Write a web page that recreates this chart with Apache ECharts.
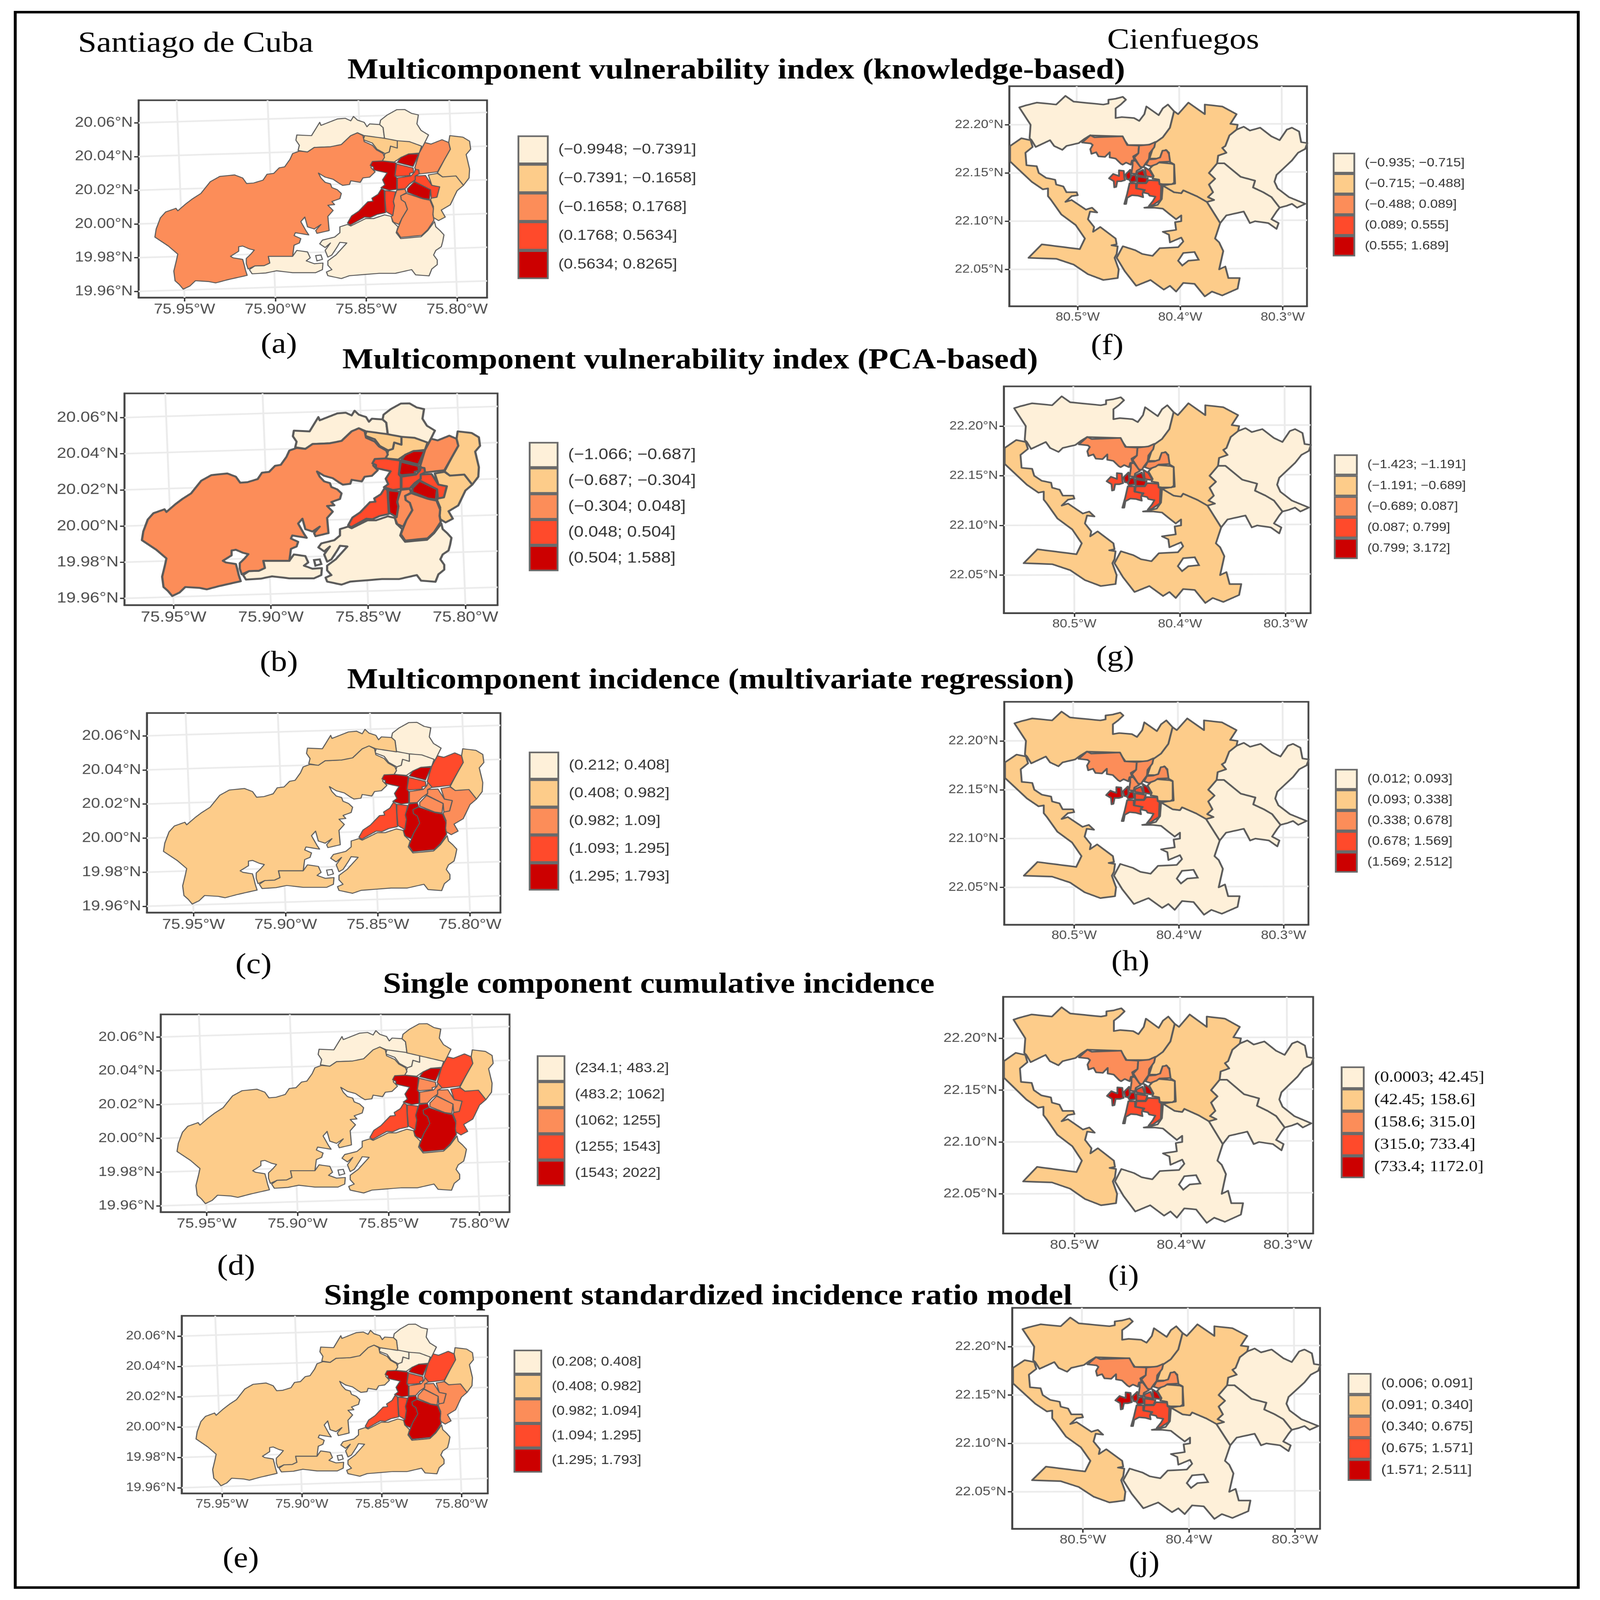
<!DOCTYPE html>
<html><head><meta charset="utf-8">
<style>html,body{margin:0;padding:0;background:#fff;overflow:hidden;width:100%;height:100%}#c{width:4412px;height:5011px;transform-origin:0 0}</style>
<script src="https://cdn.jsdelivr.net/npm/echarts@6/dist/echarts.min.js"></script>
</head><body><div id="c"></div>
<script>
// Class colours shared by all the maps
const classColors=['#FEF0D9','#FDCC8A','#FC8D59','#FF4A2B','#CC0000'];
const outlineColor='#5a5a5a';

// ---- Santiago de Cuba districts: [degrees west, degrees north]
const sWest=[[75.8548,20.0541],[75.8518,20.0524],[75.8511,20.0489],[75.8466,20.0467],[75.8444,20.0440],[75.8407,20.0418],[75.8399,20.0396],[75.8414,20.0370],[75.8466,20.0368],[75.8474,20.0335],[75.8451,20.0309],[75.8481,20.0278],[75.8518,20.0273],[75.8533,20.0247],[75.8585,20.0256],[75.8592,20.0234],[75.8630,20.0229],[75.8652,20.0243],[75.8682,20.0265],[75.8726,20.0278],[75.8763,20.0302],[75.8749,20.0273],[75.8726,20.0247],[75.8697,20.0238],[75.8689,20.0216],[75.8659,20.0203],[75.8637,20.0181],[75.8645,20.0150],[75.8689,20.0133],[75.8674,20.0115],[75.8711,20.0111],[75.8682,20.0080],[75.8711,20.0045],[75.8704,19.9961],[75.8771,19.9944],[75.8778,19.9961],[75.8749,19.9997],[75.8786,19.9970],[75.8823,19.9983],[75.8838,20.0041],[75.8860,20.0014],[75.8830,19.9957],[75.8816,19.9935],[75.8890,19.9948],[75.8897,19.9931],[75.8860,19.9913],[75.8868,19.9887],[75.8897,19.9874],[75.8905,19.9808],[75.9039,19.9808],[75.9031,19.9768],[75.9061,19.9753],[75.9113,19.9751],[75.9150,19.9733],[75.9160,19.9764],[75.9160,19.9795],[75.9135,19.9821],[75.9116,19.9845],[75.9143,19.9852],[75.9180,19.9869],[75.9202,19.9865],[75.9202,19.9838],[75.9247,19.9808],[75.9232,19.9799],[75.9180,19.9790],[75.9172,19.9759],[75.9165,19.9728],[75.9155,19.9695],[75.9217,19.9680],[75.9262,19.9669],[75.9329,19.9650],[75.9366,19.9658],[75.9440,19.9663],[75.9470,19.9632],[75.9507,19.9613],[75.9529,19.9641],[75.9552,19.9663],[75.9559,19.9720],[75.9544,19.9786],[75.9537,19.9821],[75.9589,19.9869],[75.9663,19.9922],[75.9656,19.9970],[75.9633,20.0036],[75.9604,20.0071],[75.9547,20.0093],[75.9537,20.0078],[75.9492,20.0120],[75.9455,20.0150],[75.9410,20.0181],[75.9358,20.0251],[75.9306,20.0282],[75.9224,20.0291],[75.9180,20.0273],[75.9158,20.0240],[75.9120,20.0243],[75.9068,20.0260],[75.9046,20.0295],[75.9009,20.0300],[75.8979,20.0333],[75.8949,20.0339],[75.8920,20.0383],[75.8905,20.0418],[75.8868,20.0432],[75.8823,20.0427],[75.8786,20.0454],[75.8697,20.0458],[75.8637,20.0471],[75.8585,20.0524]];
const sNorth1=[[75.8875,20.0436],[75.8868,20.0467],[75.8887,20.0497],[75.8882,20.0528],[75.8801,20.0524],[75.8756,20.0603],[75.8749,20.0585],[75.8659,20.0623],[75.8615,20.0627],[75.8585,20.0612],[75.8570,20.0638],[75.8548,20.0616],[75.8511,20.0603],[75.8496,20.0577],[75.8481,20.0594],[75.8426,20.0590],[75.8407,20.0572],[75.8399,20.0506],[75.8511,20.0524],[75.8548,20.0541],[75.8585,20.0524],[75.8637,20.0471],[75.8697,20.0458],[75.8786,20.0454],[75.8823,20.0427]];
const sNorth2=[[75.8426,20.0590],[75.8421,20.0616],[75.8384,20.0647],[75.8332,20.0678],[75.8288,20.0679],[75.8250,20.0656],[75.8213,20.0647],[75.8221,20.0594],[75.8198,20.0555],[75.8157,20.0528],[75.8191,20.0454],[75.8310,20.0484],[75.8399,20.0506],[75.8407,20.0572]];
const sPeach1=[[75.8509,20.0524],[75.8404,20.0509],[75.8329,20.0494],[75.8329,20.0450],[75.8366,20.0462],[75.8373,20.0427],[75.8397,20.0418],[75.8441,20.0444],[75.8466,20.0480],[75.8516,20.0500]];
const sPeach2=[[75.8329,20.0494],[75.8261,20.0488],[75.8195,20.0462],[75.8208,20.0421],[75.8267,20.0415],[75.8310,20.0394],[75.8345,20.0368],[75.8410,20.0374],[75.8397,20.0418],[75.8373,20.0427],[75.8366,20.0462],[75.8329,20.0450]];
const sCityN=[[75.8211,20.0415],[75.8242,20.0341],[75.8329,20.0365],[75.8310,20.0394],[75.8267,20.0415]];
const sCityW=[[75.8466,20.0371],[75.8410,20.0374],[75.8335,20.0362],[75.8342,20.0285],[75.8332,20.0273],[75.8332,20.0206],[75.8373,20.0200],[75.8419,20.0215],[75.8397,20.0232],[75.8410,20.0262],[75.8385,20.0303],[75.8460,20.0321],[75.8460,20.0338],[75.8478,20.0347]];
const sCityC=[[75.8332,20.0356],[75.8242,20.0332],[75.8239,20.0306],[75.8261,20.0300],[75.8258,20.0288],[75.8329,20.0282],[75.8342,20.0288]];
const sCityS=[[75.8329,20.0273],[75.8254,20.0285],[75.8233,20.0309],[75.8230,20.0324],[75.8211,20.0321],[75.8208,20.0297],[75.8230,20.0285],[75.8230,20.0262],[75.8261,20.0238],[75.8286,20.0209],[75.8329,20.0206]];
const sCityE=[[75.8230,20.0285],[75.8174,20.0288],[75.8155,20.0256],[75.8139,20.0229],[75.8096,20.0220],[75.8111,20.0159],[75.8142,20.0153],[75.8146,20.0203],[75.8236,20.0253],[75.8230,20.0262]];
const sCitySE=[[75.8236,20.0250],[75.8146,20.0203],[75.8152,20.0147],[75.8192,20.0153],[75.8273,20.0188],[75.8273,20.0209]];
const sEast1=[[75.8177,20.0483],[75.8143,20.0474],[75.8083,20.0500],[75.8046,20.0483],[75.8037,20.0444],[75.8068,20.0385],[75.8108,20.0309],[75.8205,20.0297],[75.8233,20.0332],[75.8208,20.0421]];
const sEast2=[[75.8040,20.0524],[75.7968,20.0515],[75.7931,20.0491],[75.7925,20.0444],[75.7950,20.0412],[75.7931,20.0326],[75.7934,20.0273],[75.7965,20.0229],[75.8006,20.0282],[75.8080,20.0279],[75.8108,20.0303],[75.8068,20.0385],[75.8037,20.0444],[75.8046,20.0483]];
const sEast3=[[75.8158,20.0291],[75.8108,20.0300],[75.8080,20.0279],[75.8006,20.0285],[75.7965,20.0229],[75.8000,20.0197],[75.8037,20.0114],[75.8087,20.0082],[75.8065,20.0041],[75.8102,20.0020],[75.8130,20.0038],[75.8133,20.0061],[75.8130,20.0103],[75.8146,20.0144],[75.8142,20.0153],[75.8111,20.0159],[75.8096,20.0220],[75.8139,20.0229]];
const sBayShore=[[75.8416,20.0209],[75.8401,20.0200],[75.8394,20.0067],[75.8441,20.0056],[75.8478,20.0038],[75.8509,20.0041],[75.8587,19.9994],[75.8603,20.0005],[75.8581,20.0047],[75.8541,20.0076],[75.8491,20.0132],[75.8463,20.0135],[75.8469,20.0153],[75.8435,20.0176]];
const sStrip=[[75.8397,20.0198],[75.8338,20.0191],[75.8351,20.0132],[75.8345,20.0109],[75.8354,20.0050],[75.8391,20.0073],[75.8397,20.0150]];
const sSouth1=[[75.8332,20.0200],[75.8286,20.0206],[75.8279,20.0185],[75.8310,20.0167],[75.8307,20.0144],[75.8286,20.0129],[75.8273,20.0088],[75.8304,20.0032],[75.8320,19.9997],[75.8351,20.0011],[75.8363,20.0044],[75.8354,20.0050],[75.8345,20.0109],[75.8351,20.0138]];
const sSouth2=[[75.8279,20.0182],[75.8192,20.0150],[75.8149,20.0141],[75.8130,20.0091],[75.8133,20.0056],[75.8127,20.0023],[75.8161,19.9967],[75.8195,19.9932],[75.8310,19.9920],[75.8332,19.9955],[75.8317,19.9997],[75.8304,20.0032],[75.8273,20.0088],[75.8286,20.0129],[75.8307,20.0144],[75.8310,20.0167]];
const sCoastE=[[75.8603,19.9997],[75.8585,19.9988],[75.8503,20.0032],[75.8459,20.0032],[75.8399,20.0054],[75.8362,20.0045],[75.8355,20.0014],[75.8325,19.9983],[75.8335,19.9948],[75.8310,19.9913],[75.8198,19.9924],[75.8161,19.9961],[75.8124,20.0014],[75.8117,19.9983],[75.8094,19.9961],[75.8072,19.9935],[75.8079,19.9896],[75.8087,19.9865],[75.8117,19.9843],[75.8129,19.9816],[75.8109,19.9786],[75.8109,19.9759],[75.8139,19.9733],[75.8154,19.9692],[75.8228,19.9698],[75.8250,19.9729],[75.8340,19.9707],[75.8429,19.9707],[75.8592,19.9693],[75.8637,19.9676],[75.8711,19.9693],[75.8719,19.9715],[75.8689,19.9729],[75.8711,19.9755],[75.8711,19.9781],[75.8667,19.9816],[75.8607,19.9887],[75.8645,19.9891],[75.8659,19.9865],[75.8689,19.9816],[75.8711,19.9803],[75.8726,19.9843],[75.8697,19.9887],[75.8726,19.9860],[75.8756,19.9882],[75.8741,19.9904],[75.8674,19.9922],[75.8645,19.9948],[75.8645,19.9983]];
const sCoastW=[[75.9143,19.9729],[75.9113,19.9751],[75.9061,19.9753],[75.9031,19.9768],[75.9039,19.9808],[75.8905,19.9808],[75.8882,19.9843],[75.8823,19.9834],[75.8808,19.9799],[75.8830,19.9781],[75.8786,19.9764],[75.8738,19.9768],[75.8741,19.9729],[75.8778,19.9711],[75.8905,19.9711],[75.8994,19.9722],[75.9053,19.9709],[75.9128,19.9704]];
const sLagoon=[[75.8778,19.9812],[75.8749,19.9816],[75.8741,19.9790],[75.8771,19.9781]];
const santiagoRegions=[sWest,sNorth1,sNorth2,sPeach1,sPeach2,sCityN,sCityW,sCityC,sCityS,sCityE,sCitySE,sEast1,sEast2,sEast3,sBayShore,sStrip,sSouth1,sSouth2,sCoastE,sCoastW];

// ---- Cienfuegos districts: [degrees west, degrees north]
const cNorth=[[80.557,22.218],[80.551,22.220],[80.540,22.223],[80.521,22.221],[80.512,22.230],[80.504,22.224],[80.475,22.221],[80.470,22.222],[80.470,22.226],[80.463,22.227],[80.456,22.229],[80.453,22.226],[80.458,22.221],[80.463,22.217],[80.463,22.211],[80.463,22.207],[80.457,22.208],[80.445,22.207],[80.440,22.204],[80.435,22.211],[80.433,22.219],[80.421,22.210],[80.417,22.217],[80.412,22.221],[80.406,22.214],[80.410,22.197],[80.417,22.187],[80.425,22.181],[80.432,22.179],[80.451,22.179],[80.457,22.188],[80.488,22.189],[80.494,22.185],[80.499,22.181],[80.511,22.178],[80.515,22.174],[80.523,22.178],[80.527,22.184],[80.541,22.177],[80.545,22.184],[80.547,22.186],[80.546,22.200]];
const cWest=[[80.566,22.178],[80.555,22.186],[80.546,22.184],[80.544,22.177],[80.551,22.171],[80.550,22.158],[80.540,22.157],[80.538,22.150],[80.531,22.145],[80.522,22.143],[80.521,22.138],[80.514,22.136],[80.511,22.130],[80.504,22.130],[80.501,22.130],[80.500,22.127],[80.506,22.126],[80.512,22.120],[80.506,22.122],[80.492,22.112],[80.486,22.114],[80.481,22.109],[80.488,22.110],[80.490,22.102],[80.484,22.094],[80.485,22.089],[80.478,22.094],[80.463,22.082],[80.462,22.076],[80.467,22.075],[80.461,22.074],[80.462,22.066],[80.464,22.062],[80.460,22.050],[80.461,22.041],[80.475,22.039],[80.490,22.045],[80.504,22.055],[80.521,22.061],[80.548,22.062],[80.535,22.076],[80.498,22.071],[80.493,22.082],[80.502,22.096],[80.516,22.107],[80.526,22.122],[80.529,22.126],[80.529,22.134],[80.534,22.133],[80.545,22.141],[80.566,22.162]];
const cSouth=[[80.374,22.120],[80.376,22.123],[80.384,22.126],[80.397,22.132],[80.399,22.129],[80.406,22.130],[80.417,22.137],[80.418,22.123],[80.422,22.117],[80.429,22.115],[80.435,22.114],[80.425,22.114],[80.417,22.113],[80.410,22.107],[80.404,22.102],[80.399,22.106],[80.399,22.100],[80.405,22.099],[80.404,22.091],[80.417,22.089],[80.411,22.086],[80.410,22.078],[80.399,22.083],[80.397,22.079],[80.402,22.073],[80.420,22.072],[80.427,22.064],[80.437,22.066],[80.444,22.070],[80.456,22.074],[80.462,22.062],[80.454,22.048],[80.443,22.033],[80.429,22.039],[80.416,22.029],[80.410,22.033],[80.404,22.027],[80.397,22.036],[80.386,22.035],[80.376,22.022],[80.369,22.027],[80.359,22.023],[80.344,22.030],[80.342,22.041],[80.353,22.041],[80.356,22.053],[80.362,22.050],[80.358,22.069],[80.362,22.078],[80.366,22.082],[80.361,22.098]];
const cCentre=[[80.406,22.214],[80.402,22.211],[80.392,22.223],[80.376,22.211],[80.376,22.221],[80.359,22.219],[80.345,22.211],[80.351,22.201],[80.344,22.200],[80.345,22.195],[80.352,22.189],[80.356,22.178],[80.359,22.176],[80.355,22.171],[80.363,22.168],[80.364,22.160],[80.372,22.150],[80.366,22.144],[80.372,22.138],[80.368,22.130],[80.373,22.125],[80.367,22.122],[80.374,22.120],[80.384,22.126],[80.397,22.132],[80.399,22.129],[80.406,22.130],[80.417,22.137],[80.405,22.139],[80.406,22.159],[80.411,22.162],[80.411,22.171],[80.414,22.174],[80.418,22.171],[80.420,22.165],[80.430,22.165],[80.425,22.181],[80.417,22.187],[80.410,22.197]];
const cEastN=[[80.345,22.195],[80.338,22.198],[80.332,22.194],[80.322,22.197],[80.311,22.188],[80.303,22.184],[80.296,22.195],[80.291,22.197],[80.284,22.193],[80.282,22.182],[80.276,22.181],[80.278,22.175],[80.285,22.171],[80.291,22.163],[80.297,22.157],[80.306,22.148],[80.308,22.141],[80.305,22.134],[80.294,22.125],[80.278,22.118],[80.286,22.114],[80.291,22.118],[80.296,22.116],[80.303,22.114],[80.311,22.125],[80.319,22.130],[80.329,22.135],[80.327,22.142],[80.341,22.146],[80.357,22.160],[80.364,22.160],[80.363,22.168],[80.355,22.171],[80.359,22.176],[80.356,22.178],[80.352,22.189]];
const cEastS=[[80.364,22.160],[80.357,22.160],[80.341,22.146],[80.327,22.142],[80.329,22.135],[80.319,22.130],[80.311,22.125],[80.303,22.114],[80.306,22.110],[80.311,22.102],[80.304,22.098],[80.306,22.092],[80.314,22.098],[80.327,22.100],[80.332,22.098],[80.338,22.110],[80.355,22.106],[80.361,22.098],[80.374,22.120],[80.367,22.122],[80.373,22.125],[80.368,22.130],[80.372,22.138],[80.366,22.144],[80.372,22.150]];
const cInner1=[[80.4957,22.1816],[80.4877,22.1891],[80.4837,22.1870],[80.4562,22.1881],[80.4517,22.1790],[80.4402,22.1784],[80.4408,22.1704],[80.4459,22.1672],[80.4448,22.1634],[80.4471,22.1629],[80.4482,22.1586],[80.4528,22.1608],[80.4562,22.1586],[80.4580,22.1597],[80.4631,22.1650],[80.4688,22.1661],[80.4688,22.1715],[80.4734,22.1667],[80.4797,22.1672],[80.4820,22.1715],[80.4866,22.1699],[80.4877,22.1747],[80.4854,22.1790],[80.4872,22.1806]];
const cInner2=[[80.4402,22.1784],[80.4299,22.1795],[80.4242,22.1822],[80.4253,22.1768],[80.4299,22.1704],[80.4305,22.1645],[80.4339,22.1597],[80.4362,22.1559],[80.4391,22.1565],[80.4448,22.1661],[80.4408,22.1704]];
const cInner3=[[80.4305,22.1640],[80.4242,22.1645],[80.4196,22.1661],[80.4173,22.1731],[80.4133,22.1736],[80.4110,22.1699],[80.4099,22.1618],[80.4202,22.1613],[80.4230,22.1592],[80.4288,22.1570],[80.4333,22.1586]];
const cInner4=[[80.4465,22.1624],[80.4436,22.1629],[80.4379,22.1549],[80.4425,22.1522],[80.4431,22.1490],[80.4476,22.1495],[80.4465,22.1575]];
const cUrbanA=[[80.4488,22.1533],[80.4482,22.1479],[80.4482,22.1452],[80.4499,22.1431],[80.4522,22.1436],[80.4534,22.1484]];
const cUrbanB=[[80.4597,22.1527],[80.4551,22.1522],[80.4545,22.1447],[80.4539,22.1426],[80.4574,22.1415],[80.4614,22.1415],[80.4625,22.1356],[80.4643,22.1351],[80.4648,22.1415],[80.4694,22.1445],[80.4654,22.1490],[80.4597,22.1468]];
const cUrbanC=[[80.4471,22.1474],[80.4436,22.1479],[80.4425,22.1415],[80.4482,22.1404],[80.4494,22.1426]];
const cUrbanD=[[80.4419,22.1506],[80.4362,22.1533],[80.4339,22.1463],[80.4419,22.1479]];
const cUrbanE=[[80.4345,22.1559],[80.4299,22.1527],[80.4265,22.1468],[80.4282,22.1458],[80.4333,22.1468]];
const cUrbanF=[[80.4419,22.1463],[80.4316,22.1447],[80.4333,22.1399],[80.4419,22.1399]];
const cUrbanG=[[80.4494,22.1393],[80.4431,22.1393],[80.4431,22.1340],[80.4356,22.1324],[80.4368,22.1286],[80.4362,22.1249],[80.4414,22.1265],[80.4471,22.1270],[80.4517,22.1243],[80.4528,22.1179],[80.4545,22.1179],[80.4517,22.1286]];
const cUrbanH=[[80.4419,22.1393],[80.4333,22.1393],[80.4311,22.1426],[80.4207,22.1420],[80.4202,22.1383],[80.4185,22.1372],[80.4190,22.1222],[80.4265,22.1168],[80.4305,22.1158],[80.4265,22.1211],[80.4242,22.1254],[80.4299,22.1265],[80.4311,22.1286],[80.4362,22.1297],[80.4345,22.1324],[80.4425,22.1340]];
const cInner5=[[80.4270,22.1575],[80.4207,22.1608],[80.4087,22.1597],[80.4059,22.1586],[80.4059,22.1399],[80.4082,22.1383],[80.4173,22.1383],[80.4202,22.1388],[80.4207,22.1431],[80.4270,22.1442],[80.4259,22.1468],[80.4299,22.1543]];
const cLake=[[80.397,22.067],[80.386,22.068],[80.382,22.060],[80.392,22.059],[80.398,22.054],[80.402,22.059]];
const cienfuegosRegions=[cNorth,cWest,cSouth,cCentre,cEastN,cEastS,cInner1,cInner2,cInner3,cInner4,cUrbanA,cUrbanB,cUrbanC,cUrbanD,cUrbanE,cUrbanF,cUrbanG,cUrbanH,cInner5];

// ---- Class of every district, per map (same order as the region lists)
const classA=[2,0,0,1,1,4,4,3,3,3,4,2,1,1,4,3,2,2,0,0];
const classB=[2,0,0,1,1,4,3,4,3,3,4,2,1,1,3,4,2,2,0,0];
const classC=[1,1,0,0,0,4,4,3,2,2,2,3,1,2,3,3,4,4,1,1];
const classD=[1,0,1,0,0,4,4,2,2,2,2,3,1,3,3,3,4,4,1,1];
const classE=[1,1,0,0,0,4,4,3,2,2,2,3,1,2,3,3,4,4,1,1];
const classF=[0,1,1,1,0,0,2,2,2,2,4,3,4,4,3,4,3,3,1];
const classG=[0,1,1,1,0,0,2,2,2,2,4,3,4,4,3,4,3,3,1];
const classH=[1,1,0,1,0,0,2,2,2,2,4,4,4,3,4,3,3,3,1];
const classI=[1,1,0,1,0,0,2,2,2,2,4,4,4,3,4,3,3,3,1];
const classJ=[1,1,0,1,0,0,2,2,2,2,4,4,4,3,4,3,3,3,1];

// ---- Legend labels
const legendA=['(−0.9948; −0.7391]','(−0.7391; −0.1658]','(−0.1658; 0.1768]','(0.1768; 0.5634]','(0.5634; 0.8265]'];
const legendB=['(−1.066; −0.687]','(−0.687; −0.304]','(−0.304; 0.048]','(0.048; 0.504]','(0.504; 1.588]'];
const legendC=['(0.212; 0.408]','(0.408; 0.982]','(0.982; 1.09]','(1.093; 1.295]','(1.295; 1.793]'];
const legendD=['(234.1; 483.2]','(483.2; 1062]','(1062; 1255]','(1255; 1543]','(1543; 2022]'];
const legendE=['(0.208; 0.408]','(0.408; 0.982]','(0.982; 1.094]','(1.094; 1.295]','(1.295; 1.793]'];
const legendF=['(−0.935; −0.715]','(−0.715; −0.488]','(−0.488; 0.089]','(0.089; 0.555]','(0.555; 1.689]'];
const legendG=['(−1.423; −1.191]','(−1.191; −0.689]','(−0.689; 0.087]','(0.087; 0.799]','(0.799; 3.172]'];
const legendH=['(0.012; 0.093]','(0.093; 0.338]','(0.338; 0.678]','(0.678; 1.569]','(1.569; 2.512]'];
const legendI=['(0.0003; 42.45]','(42.45; 158.6]','(158.6; 315.0]','(315.0; 733.4]','(733.4; 1172.0]'];
const legendJ=['(0.006; 0.091]','(0.091; 0.340]','(0.340; 0.675]','(0.675; 1.571]','(1.571; 2.511]'];

// ---- Axis ticks and extents
const sLonTicks=[75.95,75.90,75.85,75.80];
const sLatTicks=[20.06,20.04,20.02,20.00,19.98,19.96];
const cLonTicks=[80.5,80.4,80.3];
const cLatTicks=[22.20,22.15,22.10,22.05];
const sLonRange=[75.7835,75.9753], sLatRange=[19.9563,20.0734];
const cLonRange=[80.2763,80.5668], cLatRange=[22.0118,22.2400];

// ---- Graticule lines (the projected grid is slightly tilted)
const sGraticule=[
 [[75.9753,20.06],[75.7835,20.0662]],[[75.9753,20.04],[75.7835,20.0462]],[[75.9753,20.02],[75.7835,20.0262]],
 [[75.9753,20.00],[75.7835,20.0062]],[[75.9753,19.98],[75.7835,19.9862]],[[75.9753,19.96],[75.7835,19.9662]],
 [[75.95,19.9563],[75.9543,20.0734]],[[75.90,19.9563],[75.9043,20.0734]],[[75.85,19.9563],[75.8543,20.0734]],[[75.80,19.9563],[75.8043,20.0734]]];
const cGraticule=[
 [[80.5668,22.20],[80.2763,22.2011]],[[80.5668,22.15],[80.2763,22.1511]],[[80.5668,22.10],[80.2763,22.1011]],[[80.5668,22.05],[80.2763,22.0511]],
 [[80.50,22.0118],[80.501,22.24]],[[80.40,22.0118],[80.401,22.24]],[[80.30,22.0118],[80.301,22.24]]];

// ---- Page texts
const headings=[
 ['Santiago de Cuba',215,92,92,'normal'],['Cienfuegos',3053,82,92,'normal'],
 ['Multicomponent vulnerability index (knowledge-based)',958,177,90.5,'bold'],
 ['Multicomponent vulnerability index (PCA-based)',944,1085,90.5,'bold'],
 ['Multicomponent incidence (multivariate regression)',957,2087,90.5,'bold'],
 ['Single component cumulative incidence',1056,3040,90.5,'bold'],
 ['Single component standardized incidence ratio model',893,4016,90.5,'bold']];
const captions=[['(a)',769,1081],['(b)',769,2077],['(c)',699,3024],['(d)',651,3968],['(e)',664,4884],
 ['(f)',3053,1085],['(g)',3075,2061],['(h)',3117,3015],['(i)',3098,4000],['(j)',3155,4897]];

// ---- Panels: frame, legend block and font sizes
const panels=[
 {cls:classA,leg:legendA,city:'s',f:[382,314,1343,932],lw:3,tf:44,lg:[1427,424,81,85,45]},
 {cls:classB,leg:legendB,city:'s',f:[343,1232,1372,1895],lw:6,tf:47,lg:[1458,1384,77,76,48]},
 {cls:classC,leg:legendC,city:'s',f:[405,2233,1380,2858],lw:3,tf:45,lg:[1458,2354,79,82,45]},
 {cls:classD,leg:legendD,city:'s',f:[443,3177,1405,3796],lw:3,tf:43,lg:[1480,3305,74,77,42]},
 {cls:classE,leg:legendE,city:'s',f:[501,4121,1345,4677],lw:3,tf:38,lg:[1416,4227,74,72,40]},
 {cls:classF,leg:legendF,city:'c',f:[2783,270,3604,959],lw:5,tf:37,lg:[3675,478,57,60,37.5]},
 {cls:classG,leg:legendG,city:'c',f:[2768,1210,3614,1920],lw:5,tf:37,lg:[3678,1423,61,60.6,37]},
 {cls:classH,leg:legendH,city:'c',f:[2769,2198,3608,2896],lw:5,tf:38,lg:[3681,2408,58,60,38]},
 {cls:classI,leg:legendI,city:'c',f:[2766,3122,3621,3863],lw:5,tf:41,lg:[3697,3340,61,65,49,'Liberation Serif']},
 {cls:classJ,leg:legendJ,city:'c',f:[2791,4096,3640,4788],lw:5,tf:39,lg:[3716,4300,61,62.6,41]}];

const sans='"Liberation Sans",Arial,sans-serif', serif='"Liberation Serif",serif';
const grid=[],xAxis=[],yAxis=[],legend=[],series=[];
panels.forEach((p,i)=>{
  const isS=p.city==='s';
  const regions=isS?santiagoRegions:cienfuegosRegions;
  const [x0,y0,x1,y1]=p.f;
  grid.push({left:x0,top:y0,width:x1-x0,height:y1-y0,show:true,borderColor:'#444',borderWidth:5,backgroundColor:'#fff',containLabel:false});
  const lonT=isS?sLonTicks:cLonTicks, latT=isS?sLatTicks:cLatTicks;
  const lonR=isS?sLonRange:cLonRange, latR=isS?sLatRange:cLatRange;
  const axisCommon={type:'value',gridIndex:i,scale:true,splitLine:{show:false},
    axisLine:{show:true,onZero:false,lineStyle:{color:'#444',width:5}}};
  const tickS={show:true,length:12,lineStyle:{color:'#333',width:4}};
  xAxis.push({...axisCommon,inverse:true,min:lonR[0],max:lonR[1],
    axisTick:{...tickS,customValues:lonT},
    axisLabel:{customValues:lonT,margin:16,color:'#4d4d4d',fontFamily:sans,fontSize:p.tf,hideOverlap:false,
      formatter:v=>v.toFixed(isS?2:1)+'°W'}});
  yAxis.push({...axisCommon,min:latR[0],max:latR[1],
    axisTick:{...tickS,customValues:latT},
    axisLabel:{customValues:latT,margin:16,color:'#4d4d4d',fontFamily:sans,fontSize:p.tf,hideOverlap:false,
      formatter:v=>v.toFixed(2)+'°N'}});
  const grat=isS?sGraticule:cGraticule;
  series.push({type:'custom',name:'graticule',xAxisIndex:i,yAxisIndex:i,silent:true,z:1,clip:true,
    data:grat.map((_,k)=>[k]),
    renderItem:(params,api)=>({type:'polyline',shape:{points:grat[api.value(0)].map(q=>api.coord(q))},
      style:{fill:null,stroke:'#ebebeb',lineWidth:5}})});
  p.leg.forEach((name,k)=>{
    const members=[];
    p.cls.forEach((c,r)=>{if(c===k)members.push([r]);});
    series.push({type:'custom',name,xAxisIndex:i,yAxisIndex:i,silent:true,z:2,clip:false,
      itemStyle:{color:classColors[k]},data:members,
      renderItem:(params,api)=>({type:'polygon',shape:{points:regions[api.value(0)].map(q=>api.coord(q))},
        style:{fill:classColors[k],stroke:outlineColor,lineWidth:p.lw,lineJoin:'round'}})});
  });
  const water=isS?[sLagoon]:[cLake];
  series.push({type:'custom',name:'water',xAxisIndex:i,yAxisIndex:i,silent:true,z:3,clip:false,data:[[0]],
    renderItem:(params,api)=>({type:'polygon',shape:{points:water[api.value(0)].map(q=>api.coord(q))},
      style:{fill:'#fff',stroke:outlineColor,lineWidth:p.lw}})});
  const [lx,ly,lw,lh,lf,lfam]=p.lg;
  legend.push({orient:'vertical',left:lx,top:ly,padding:0,itemGap:0,itemWidth:lw,itemHeight:lh,icon:'rect',
    selectedMode:false,data:p.leg,
    itemStyle:{borderColor:'#6a6a6a',borderWidth:5},
    textStyle:{fontFamily:lfam?serif:sans,fontSize:lf,color:lfam?'#111':'#333',padding:[0,0,0,24]}});
});

const titles=[
 ...headings.map(h=>({text:h[0],left:h[1],top:h[2],padding:0,textStyle:{fontFamily:serif,fontSize:h[3],fontWeight:h[4],color:'#000'}})),
 ...captions.map(c=>({text:c[0],left:c[1],top:c[2],padding:0,textAlign:'center',textVerticalAlign:'middle',textStyle:{fontFamily:serif,fontSize:90,fontWeight:'normal',color:'#000'}}))];

// The page is 4412×5011; if the browser window is smaller, fit the whole page into it.
const box=document.getElementById('c');
box.style.transform='scale('+(window.innerWidth/4412)+','+(window.innerHeight/5011)+')';
const chart=echarts.init(box,null,{renderer:'canvas',width:4412,height:5011});
chart.setOption({animation:false,backgroundColor:'#fff',title:titles,grid,xAxis,yAxis,legend,series,
  graphic:[{type:'rect',silent:true,z:-1,shape:{x:42,y:38,width:4310,height:4934},style:{fill:null,stroke:'#000',lineWidth:8}}]});
</script></body></html>
